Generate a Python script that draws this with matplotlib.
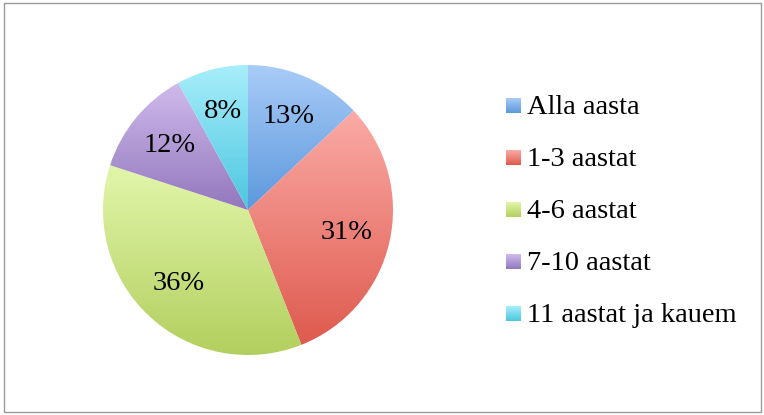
import numpy as np
import matplotlib
matplotlib.use("Agg")
import matplotlib.pyplot as plt
from matplotlib.colors import LinearSegmentedColormap
from matplotlib.patches import Rectangle

# Data
labels = ["Alla aasta", "1-3 aastat", "4-6 aastat", "7-10 aastat", "11 aastat ja kauem"]
values = [13, 31, 36, 12, 8]

# Gradient colours (top -> bottom) for each slice
top_colors = ["#a9ccf8", "#fbaba6", "#e2f6ab", "#d0bbec", "#a8eefb"]
bottom_colors = ["#5c98dc", "#de5a4e", "#b2cf5e", "#9277bd", "#4cc6e0"]

plt.rcParams["font.family"] = ["Liberation Serif", "DejaVu Serif"]

W, H = 764, 415
fig = plt.figure(figsize=(W / 100, H / 100), dpi=100)

# Pie axes: centre at (248, 210) px, radius 145 px
cx, cy, r = 248, 210, 145
ax = fig.add_axes([(cx - r) / W, (H - cy - r) / H, 2 * r / W, 2 * r / H])
wedges, texts, autotexts = ax.pie(values, startangle=90, counterclock=False,
                                  autopct=lambda p: f"{p:.0f}%", pctdistance=0.7,
                                  wedgeprops=dict(linewidth=0))

gradient = np.linspace(0, 1, 256).reshape(-1, 1)
for w, c_top, c_bot in zip(wedges, top_colors, bottom_colors):
    w.set_facecolor("none")
    ext = w.get_path().get_extents()
    cmap = LinearSegmentedColormap.from_list("g", [c_top, c_bot])
    im = ax.imshow(gradient, cmap=cmap, extent=[ext.x0, ext.x1, ext.y0, ext.y1],
                   origin="upper", aspect="auto", zorder=1)
    im.set_clip_path(w)

for t in autotexts:
    t.set_fontsize(20.5)
    t.set_color("black")
    t.set_zorder(5)

ax.set_xlim(-1, 1)
ax.set_ylim(-1, 1)
ax.set_aspect("equal")
ax.axis("off")

# Overlay axes in pixel coordinates for legend and border
lax = fig.add_axes([0, 0, 1, 1], zorder=-1)
lax.set_xlim(0, W)
lax.set_ylim(H, 0)
lax.axis("off")

legend_y = [106, 158, 210, 262, 314]
for lab, y, c_top, c_bot in zip(labels, legend_y, top_colors, bottom_colors):
    cmap = LinearSegmentedColormap.from_list("g", [c_top, c_bot])
    lax.imshow(gradient, cmap=cmap, extent=[506, 521, y + 7.5, y - 7.5],
               origin="upper", aspect="auto")
    lax.text(527, y + 1, lab, fontsize=20.5, va="center", ha="left", color="black")

lax.add_patch(Rectangle((3.5, 3.5), W - 7, H - 7, fill=False,
                        edgecolor="#9a9a9a", linewidth=1))
lax.set_xlim(0, W)
lax.set_ylim(H, 0)

fig.savefig("out.png", dpi=100)
